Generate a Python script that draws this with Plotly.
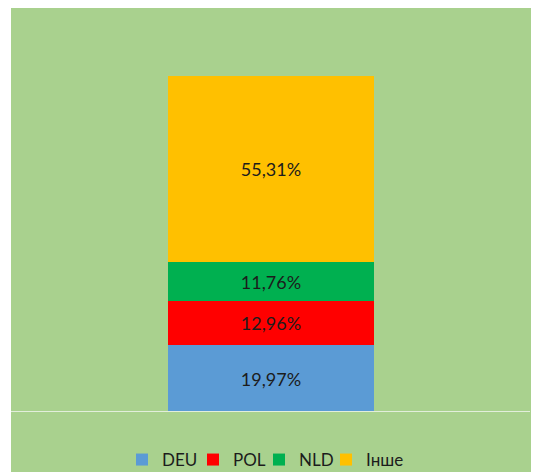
import plotly.graph_objects as go

categories = ["DEU", "POL", "NLD", "Інше"]
values = [19.97, 12.96, 11.76, 55.31]
labels = ["19,97%", "12,96%", "11,76%", "55,31%"]
colors = ["#5b9bd5", "#ff0000", "#00b050", "#ffc000"]
legend_widths = [26, 21, 22, 40]

OFF = 8  # page body margin
W, H = 530, 464
L, R, T, B = 3, 3, 0, 0
pw, ph = W - L - R, H - T - B

def xpaper(px):
    return (px - OFF - L) / pw

def ypaper(py):
    return (H - B - (py - OFF)) / ph

fig = go.Figure()
for name, v, lab, c, lw in zip(categories, values, labels, colors, legend_widths):
    fig.add_trace(go.Bar(
        x=[0], y=[v], name=name, text=[lab],
        marker=dict(color=c, line=dict(width=0)),
        textposition="inside", insidetextanchor="middle", textangle=0,
        constraintext="none",
        textfont=dict(family="Lato, Open Sans, sans-serif", size=18, color="#1c1c1c"),
        width=1, hoverinfo="skip", legendwidth=lw,
    ))

# bar spans page px 168..374
bx0, bx1 = xpaper(168) * pw, xpaper(374) * pw
xa = -bx0 / (bx1 - bx0) - 0.5
xb = (pw - bx0) / (bx1 - bx0) - 0.5

fig.update_layout(
    width=W, height=H,
    margin=dict(l=L, r=R, t=T, b=B, pad=0, autoexpand=False),
    paper_bgcolor="white",
    plot_bgcolor="rgba(0,0,0,0)",
    barmode="stack",
    bargap=0,
    showlegend=True,
    xaxis=dict(range=[xa, xb], domain=[0, 1], visible=False, fixedrange=True),
    yaxis=dict(range=[0, 100], domain=[ypaper(412), ypaper(76)], visible=False, fixedrange=True),
    legend=dict(orientation="h", x=xpaper(122), xanchor="left",
                y=ypaper(460), yanchor="middle", traceorder="normal",
                font=dict(family="Lato, Open Sans, sans-serif", size=17, color="#1c1c1c"),
                bgcolor="rgba(0,0,0,0)", itemwidth=30, entrywidthmode="pixels"),
    shapes=[
        dict(type="rect", xref="paper", yref="paper", x0=0, x1=1, y0=0, y1=1,
             fillcolor="#a9d18e", line=dict(width=0), layer="below"),
        dict(type="line", xref="paper", yref="y", x0=0, x1=xpaper(530), y0=0, y1=0,
             line=dict(color="#e2eedb", width=2), layer="above"),
    ],
)

fig.write_html("out.html")
